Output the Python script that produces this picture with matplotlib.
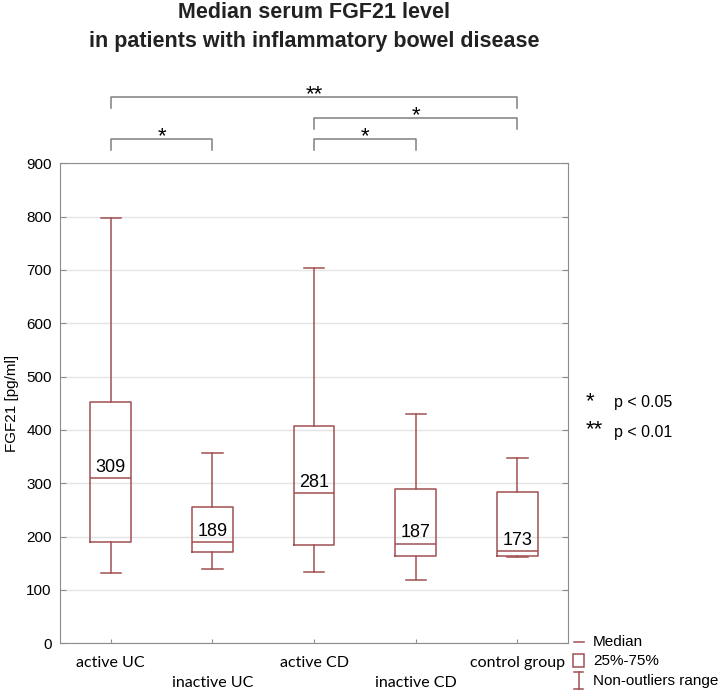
import matplotlib
matplotlib.use('Agg')
import matplotlib.pyplot as plt
from matplotlib.lines import Line2D
from matplotlib.patches import Rectangle

# data
groups = ['active UC', 'inactive UC', 'active CD', 'inactive CD', 'control group']
whisker_low = [132, 139, 133, 119, 161]
q1 = [189, 171, 184, 164, 163]
medians = [309, 189, 281, 187, 173]
q3 = [453, 256, 407, 289, 283]
whisker_high = [797, 357, 703, 430, 347]

# significance brackets: (from group, to group, label)
brackets = [(0, 4, '**'), (2, 4, '*'), (0, 1, '*'), (2, 3, '*')]
bracket_levels = [1024, 984, 945, 945]

box_color = '#a05050'
spine_color = '#8c8c8c'

plt.rcParams['font.family'] = ['Liberation Sans', 'DejaVu Sans']

fig = plt.figure(figsize=(7.26, 6.99), dpi=100)
ax = fig.add_axes([0.0826, 0.0797, 0.700, 0.6867])

stats = []
for i, g in enumerate(groups):
    stats.append({'label': g, 'whislo': whisker_low[i], 'q1': q1[i],
                  'med': medians[i], 'q3': q3[i], 'whishi': whisker_high[i],
                  'fliers': []})

pos = list(range(len(groups)))
ax.bxp(stats, positions=pos, widths=0.4, showfliers=False,
       boxprops=dict(color=box_color, linewidth=1.1),
       whiskerprops=dict(color=box_color, linewidth=1.1),
       capprops=dict(color=box_color, linewidth=1.1),
       medianprops=dict(color=box_color, linewidth=1.1),
       capwidths=0.2)

# median labels
for i, m in enumerate(medians):
    ax.text(pos[i], m + 4, str(m), ha='center', va='bottom', fontsize=13)

ax.set_xlim(-0.5, len(groups) - 0.5)
ax.set_ylim(0, 900)
ax.set_yticks(range(0, 901, 100))
ax.yaxis.grid(True, color='#e4e4e4', linewidth=1)
ax.set_axisbelow(True)

ax.set_xticks(pos)
ax.set_xticklabels([g if i % 2 == 0 else '\n' + g for i, g in enumerate(groups)],
                   fontsize=11.5, family=['Lato', 'DejaVu Sans'], linespacing=1.6)
ax.tick_params(axis='x', direction='in', length=3, color=spine_color, pad=9)
ax.tick_params(axis='y', direction='in', length=4, color=spine_color, labelsize=11,
               right=True, pad=6)
ax.set_ylabel('FGF21 [pg/ml]', fontsize=11, labelpad=5)
for s in ax.spines.values():
    s.set_color(spine_color)

# title
ax.set_title('Median serum FGF21 level\nin patients with inflammatory bowel disease',
             fontsize=15.5, fontweight='bold', linespacing=1.5, pad=84, color='#222222')

# significance brackets above the plot
for (a, b, lab), lvl in zip(brackets, bracket_levels):
    ax.plot([pos[a], pos[a], pos[b], pos[b]], [lvl - 20, lvl, lvl, lvl - 20],
            color='#808080', linewidth=1.1, clip_on=False)
    ax.text((pos[a] + pos[b]) / 2, lvl - 6, lab, ha='center', va='baseline',
            fontsize=16, clip_on=False)

# significance legend
W, H = 726, 699
fig.text(586 / W, 1 - 407 / H, '*', fontsize=16, ha='left', va='baseline')
fig.text(614 / W, 1 - 403 / H, 'p < 0.05', fontsize=11.5, ha='left', va='center')
fig.text(586 / W, 1 - 435 / H, '**', fontsize=16, ha='left', va='baseline')
fig.text(614 / W, 1 - 433 / H, 'p < 0.01', fontsize=11.5, ha='left', va='center')

# custom legend at bottom right
fig.add_artist(Line2D([574 / W, 584 / W], [1 - 642 / H, 1 - 642 / H],
                      color=box_color, linewidth=1.1))
fig.text(593 / W, 1 - 642 / H, 'Median', fontsize=11, va='center')
fig.add_artist(Rectangle((573 / W, 1 - 667 / H), 11 / W, 13 / H, fill=False,
                         edgecolor=box_color, linewidth=1.1))
fig.text(593 / W, 1 - 661 / H, '25%-75%', fontsize=11, va='center')
fig.add_artist(Line2D([578.5 / W, 578.5 / W], [1 - 672 / H, 1 - 689 / H],
                      color=box_color, linewidth=1.1))
fig.add_artist(Line2D([574 / W, 583 / W], [1 - 672 / H, 1 - 672 / H],
                      color=box_color, linewidth=1.1))
fig.add_artist(Line2D([574 / W, 583 / W], [1 - 689 / H, 1 - 689 / H],
                      color=box_color, linewidth=1.1))
fig.text(593 / W, 1 - 681 / H, 'Non-outliers range', fontsize=11, va='center')

plt.savefig('out.png', dpi=100)
plt.close('all')
